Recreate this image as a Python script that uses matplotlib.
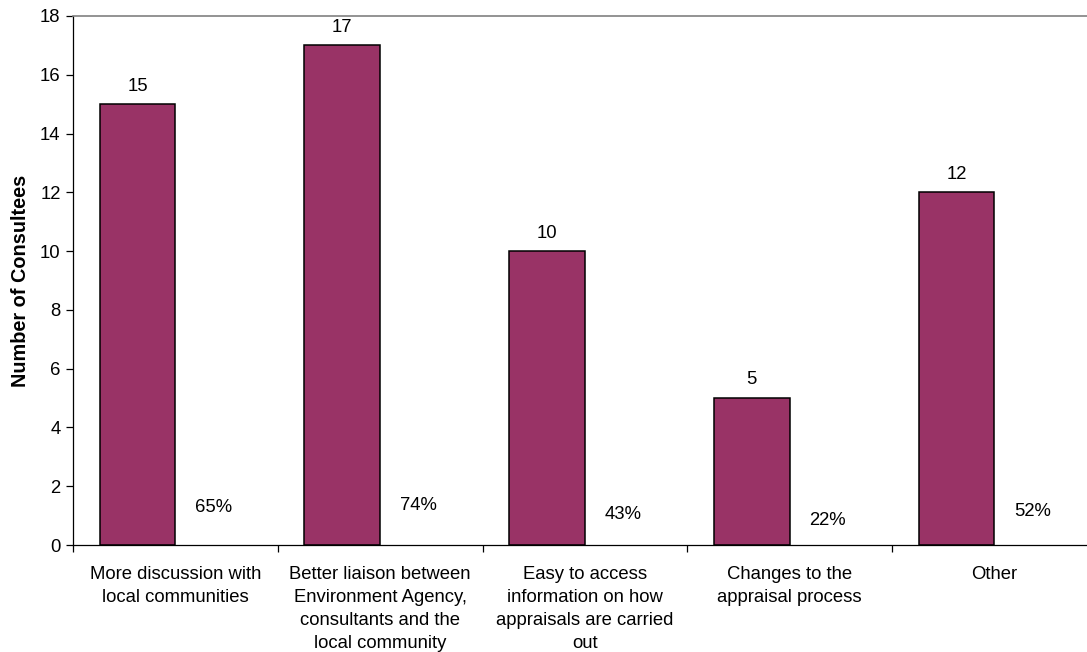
#!/usr/bin/env python3
"""Bar chart of suggested improvements raised by consultees."""

import matplotlib.pyplot as plt
import numpy as np

plt.rcParams["font.family"] = ["Liberation Sans", "DejaVu Sans"]

categories = [
    "More discussion with\nlocal communities",
    "Better liaison between\nEnvironment Agency,\nconsultants and the\nlocal community",
    "Easy to access\ninformation on how\nappraisals are carried\nout",
    "Changes to the\nappraisal process",
    "Other",
]
counts = [15, 17, 10, 5, 12]
shares = [0.65, 0.74, 0.43, 0.22, 0.52]

BAR_COLOR = "#993366"
BAR_W = 0.37
FS = 13.3


def main() -> None:
    fig = plt.figure(figsize=(10.87, 6.52), dpi=100)
    ax = fig.add_axes([0.0672, 0.1641, 0.9418, 0.8114])

    x = np.arange(len(categories))
    count_x = x + 0.5 - BAR_W / 2
    share_x = x + 0.5 + BAR_W / 2

    ax.bar(count_x, counts, width=BAR_W, color=BAR_COLOR, edgecolor="black", linewidth=1.1)
    # share series sits on the same axis as fractions; only its labels show
    ax.bar(share_x, shares, width=BAR_W, color="none", edgecolor="none")

    for xi, v in zip(count_x, counts):
        ax.annotate(f"{v}", (xi, v), xytext=(0, 13), textcoords="offset points",
                    ha="center", va="center", fontsize=FS)
    for xi, v in zip(share_x, shares):
        ax.annotate(f"{v:.0%}", (xi, v), xytext=(0, 13), textcoords="offset points",
                    ha="center", va="center", fontsize=FS)

    ax.set_xlim(0, len(categories))
    ax.set_ylim(0, 18)
    ax.set_yticks(range(0, 19, 2))

    # category boundaries carry the ticks, centres carry the labels
    ax.set_xticks(np.arange(len(categories) + 1))
    ax.set_xticklabels([])
    ax.set_xticks(x + 0.5, minor=True)
    ax.set_xticklabels(categories, minor=True, fontsize=FS, linespacing=1.47, va="top")
    ax.tick_params(axis="x", which="major", direction="out", length=5, width=0.9)
    ax.tick_params(axis="x", which="minor", length=0, pad=15)
    ax.tick_params(axis="y", direction="out", length=5, width=0.9, labelsize=FS, pad=4)

    ax.set_ylabel("Number of Consultees", fontsize=14.3, fontweight="bold", labelpad=7)

    ax.spines["right"].set_visible(False)
    ax.spines["top"].set_color("#808080")
    ax.spines["top"].set_linewidth(1.2)
    ax.spines["left"].set_linewidth(0.9)
    ax.spines["bottom"].set_linewidth(0.9)

    fig.savefig("out.png", dpi=100)
    plt.close(fig)


if __name__ == "__main__":
    main()
